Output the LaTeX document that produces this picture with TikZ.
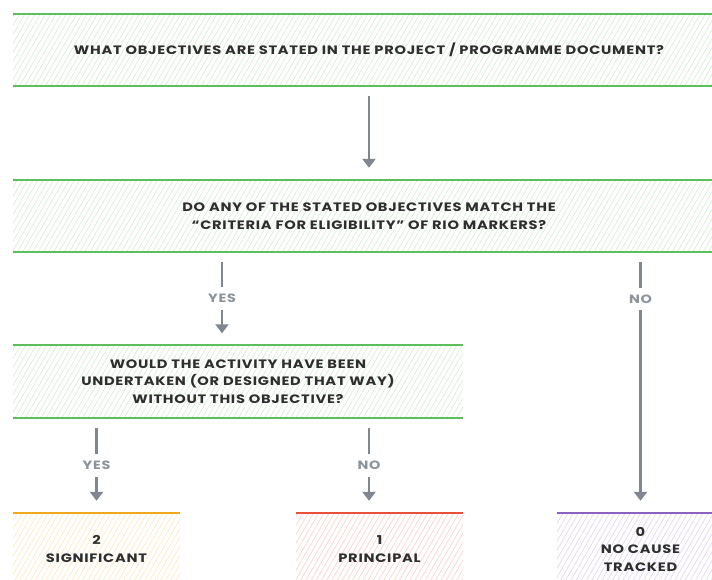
\documentclass[tikz,border=0pt]{standalone}
\usepackage{fontspec}
\setmainfont{Poppins}
\newfontfamily\chartfont{Poppins}[FakeStretch=1.2,LetterSpace=6]
\usepackage{tikz}
\usetikzlibrary{arrows.meta,positioning,calc,patterns.meta}
\definecolor{qgreen}{HTML}{5CBF5C}
\definecolor{morange}{HTML}{F0A81C}
\definecolor{mred}{HTML}{E8503A}
\definecolor{mpurple}{HTML}{8A63C2}
\definecolor{flowgray}{HTML}{80878F}
\definecolor{lblgray}{HTML}{8C939B}
\definecolor{txt}{HTML}{2E2E2E}

\begin{document}
\begin{tikzpicture}[x=1pt,y=-1pt,>={Triangle[width=13pt,length=9pt]},
  qbox/.style={minimum height=72pt,inner sep=0pt,align=center,text=txt,
    font=\chartfont\bfseries\fontsize{12.2}{17.5}\selectfont,
    pattern={Lines[angle=60,distance=4.5pt,line width=0.6pt]},pattern color=qgreen!28},
  mbox/.style={qbox,minimum width=167pt,pattern color=#1!28},
  qrule/.style={draw=qgreen,line width=1.8pt},
  flow/.style={draw=flowgray,line width=2.8pt,->,shorten <=10pt,shorten >=12pt},
  lbl/.style={fill=white,text=lblgray,font=\chartfont\bfseries\fontsize{12}{12}\selectfont,inner xsep=2pt,inner ysep=7pt}]
\useasboundingbox (0,0) rectangle (712,579);
\clip (0,0) rectangle (712,579);
% question boxes
\node[qbox,minimum width=712pt] (q1) at (369,50) {WHAT OBJECTIVES ARE STATED IN THE PROJECT / PROGRAMME DOCUMENT?};
\node[qbox,minimum width=712pt] (q2) at (369,216) {DO ANY OF THE STATED OBJECTIVES MATCH THE\\“CRITERIA FOR ELIGIBILITY” OF RIO MARKERS?};
\node[qbox,minimum width=450pt] (q3) at (238,381.5) {WOULD THE ACTIVITY HAVE BEEN\\UNDERTAKEN (OR DESIGNED THAT WAY)\\WITHOUT THIS OBJECTIVE?};
\foreach \n in {q1,q2,q3}{
  \draw[qrule] (\n.north west) -- (\n.north east) (\n.south west) -- (\n.south east);}
% marker boxes
\node[mbox=morange] (m2) at (96.5,549) {2\\SIGNIFICANT};
\node[mbox=mred] (m1) at (379.5,549) {1\\PRINCIPAL};
\node[mbox=mpurple] (m0) at (640.5,549) {0\\NO CAUSE\\TRACKED};
\foreach \n/\c in {m2/morange,m1/mred,m0/mpurple}
  \draw[draw=\c,line width=1.8pt] (\n.north west) -- (\n.north east);
% columns of the arrows
\coordinate (cyes) at (222,0);
\coordinate (cno) at (369,0);
\draw[flow] (q1.south) -- (q2.north);
\draw[flow] (q2.south -| cyes) -- node[lbl] {YES} (q3.north -| cyes);
\draw[flow] (q2.south -| m0) -- node[lbl,pos=0.18] {NO} (m0.north);
\draw[flow] (q3.south -| m2) -- node[lbl] {YES} (m2.north);
\draw[flow] (q3.south -| cno) -- node[lbl] {NO} (m1.north -| cno);
\end{tikzpicture}
\end{document}
